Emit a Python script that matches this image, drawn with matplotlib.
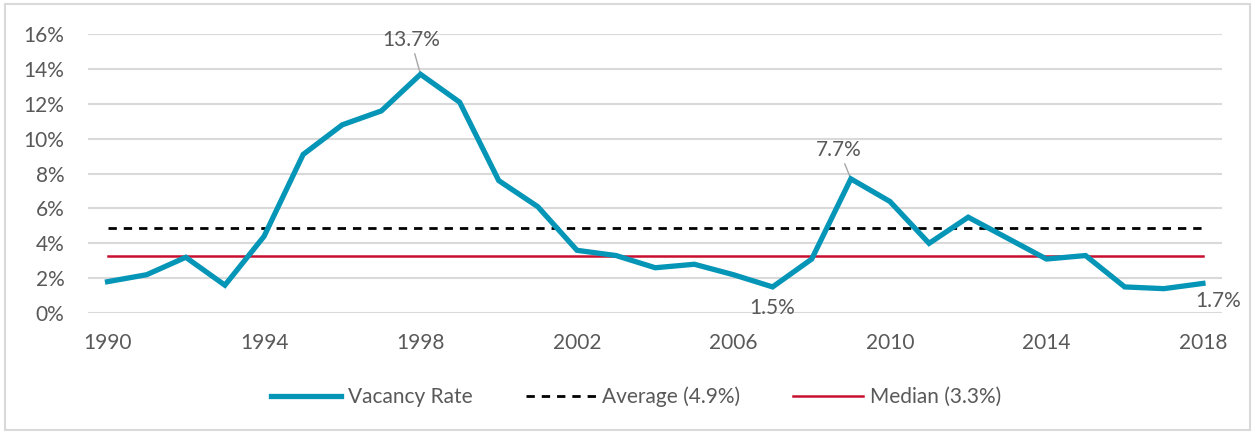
"""
Vacancy rate 1990-2018 with average and median reference lines.
"""

from matplotlib import pyplot as plt
from matplotlib.patches import Rectangle
from matplotlib.ticker import FuncFormatter

# Data
years: list[int] = list(range(1990, 2019))
vacancy_rate: list[float] = [1.8, 2.2, 3.2, 1.6, 4.4, 9.1, 10.8, 11.6, 13.7, 12.1,
                             7.6, 6.1, 3.6, 3.3, 2.6, 2.8, 2.2, 1.5, 3.1, 7.7,
                             6.4, 4.0, 5.5, 4.3, 3.1, 3.3, 1.5, 1.4, 1.7]
average_rate: float = 4.9
median_rate: float = 3.3
x_tick_years: list[int] = list(range(1990, 2019, 4))
y_ticks: list[int] = list(range(0, 17, 2))

TEAL = "#0595B6"
RED = "#C8102E"
GRID = "#D9D9D9"
TEXT = "#595959"
FONT_SIZE = 15

plt.rcParams["font.family"] = ["Lato", "DejaVu Sans"]

fig = plt.figure(figsize=(12.55, 4.33), dpi=100)
fig.patches.append(Rectangle((0.004, 0.008), 0.992, 0.982, transform=fig.transFigure,
                             fill=False, edgecolor=GRID, linewidth=1.5))
ax = fig.add_axes([0.0701, 0.277, 0.904, 0.644])

ax.plot(years, vacancy_rate, color=TEAL, linewidth=3.8, solid_joinstyle="miter",
        label="Vacancy Rate", zorder=4)
ax.plot([years[0], years[-1]], [average_rate, average_rate], color="black",
        linewidth=2, linestyle=(0, (3, 2.5)), label="Average (4.9%)", zorder=3)
ax.plot([years[0], years[-1]], [median_rate, median_rate], color=RED,
        linewidth=1.8, label="Median (3.3%)", zorder=3)

ax.set_xlim(1989.5, 2018.5)
ax.set_ylim(0, 16)
ax.set_xticks(x_tick_years)
ax.set_yticks(y_ticks)
ax.yaxis.set_major_formatter(FuncFormatter(lambda v, _: f"{v:.0f}%"))
ax.grid(axis="y", color=GRID, linewidth=1.5)
ax.set_axisbelow(True)
for spine in ax.spines.values():
    spine.set_visible(False)
ax.tick_params(length=0, labelsize=FONT_SIZE, labelcolor=TEXT)
ax.tick_params(axis="x", pad=14)
ax.tick_params(axis="y", pad=17)

# Data labels
leader = dict(arrowstyle="-", color="#A6A6A6", lw=1, shrinkA=1, shrinkB=0)
peak_i = vacancy_rate.index(13.7)
ax.annotate("13.7%", (years[peak_i], vacancy_rate[peak_i]), xytext=(-7, 25),
            textcoords="offset points", ha="center", va="center", fontsize=FONT_SIZE,
            color=TEXT, arrowprops=leader)
second_i = vacancy_rate.index(7.7)
ax.annotate("7.7%", (years[second_i], vacancy_rate[second_i]), xytext=(-8.5, 21),
            textcoords="offset points", ha="center", va="center", fontsize=FONT_SIZE,
            color=TEXT, arrowprops=leader)
low_i = years.index(2007)
ax.annotate("1.5%", (years[low_i], vacancy_rate[low_i]), xytext=(0, -15),
            textcoords="offset points", ha="center", va="center", fontsize=FONT_SIZE,
            color=TEXT)
ax.annotate("1.7%", (years[-1], vacancy_rate[-1]), xytext=(11, -13),
            textcoords="offset points", ha="center", va="center", fontsize=FONT_SIZE,
            color=TEXT)

fig.legend(loc="center", bbox_to_anchor=(0.507, 0.083), ncol=3, frameon=False,
           fontsize=FONT_SIZE, labelcolor=TEXT, handlelength=3.36, handletextpad=0.32,
           columnspacing=2.55)

fig.savefig("out.png", dpi=100)
